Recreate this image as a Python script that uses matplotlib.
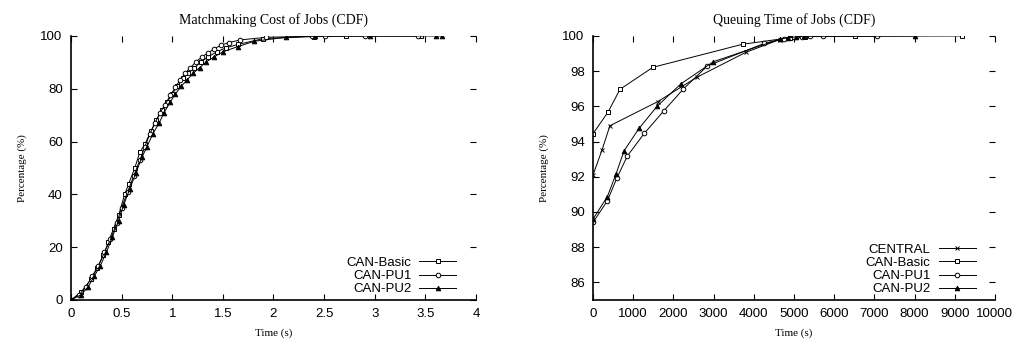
import numpy as np
import matplotlib
matplotlib.use('Agg')
import matplotlib.pyplot as plt

# left panel: matchmaking cost CDF
basic_x = [0, 0.1, 0.2, 0.26, 0.32, 0.37, 0.42, 0.47, 0.53, 0.57, 0.63, 0.68, 0.73, 0.79, 0.84, 0.9,
           0.95, 1.0, 1.05, 1.11, 1.16, 1.22, 1.28, 1.35, 1.44, 1.53, 1.65, 1.9, 2.4, 2.72, 3.46]
basic_y = [0, 3, 8, 12, 17, 22, 27, 32, 40, 44, 50, 56, 59, 64, 68, 72,
           75, 78, 81, 84, 86, 88, 90, 92, 94, 95.5, 96.8, 99, 99.8, 100, 100]
pu1_x = [0, 0.08, 0.15, 0.21, 0.27, 0.33, 0.39, 0.45, 0.5, 0.56, 0.62, 0.68, 0.73, 0.78, 0.83, 0.88,
         0.93, 0.98, 1.03, 1.08, 1.13, 1.18, 1.23, 1.29, 1.35, 1.41, 1.48, 1.56, 1.67, 1.93, 2.38, 2.51,
         2.9, 3.43]
pu1_y = [0, 2, 5, 9, 13, 18, 23, 29, 35, 41, 47, 53, 58, 63, 67, 71,
         74, 77.5, 80.5, 83.5, 86, 88, 90, 92, 93.5, 95, 96.5, 97.5, 98.5, 99.5, 99.9, 100,
         100, 100]
pu2_x = [0, 0.1, 0.17, 0.23, 0.29, 0.35, 0.41, 0.47, 0.52, 0.58, 0.64, 0.7, 0.75, 0.81, 0.87, 0.92,
         0.98, 1.03, 1.09, 1.15, 1.21, 1.27, 1.33, 1.41, 1.5, 1.65, 1.81, 2.12, 2.41, 2.95, 3.61, 3.66]
pu2_y = [0, 2, 5, 9, 13, 18, 24, 30, 36, 42, 48, 54, 58, 63, 67, 71,
         75, 78, 81, 83.5, 86, 88, 90, 92, 94, 96, 98, 99.5, 99.9, 100, 100, 100]

# right panel: queuing time CDF
q_central_x = [0, 220, 420, 1610, 2580, 3800, 4650, 4950, 5150, 5300]
q_central_y = [92.1, 93.5, 94.9, 96.27, 97.65, 99.07, 99.8, 99.93, 99.98, 100]
q_basic_x = [0, 380, 670, 1490, 3720, 4900, 5270, 6520, 9170]
q_basic_y = [94.45, 95.7, 96.97, 98.22, 99.53, 99.9, 99.97, 99.99, 100]
q_pu1_x = [0, 356, 590, 853, 1277, 1767, 2248, 2845, 4262, 4750, 5000, 5200, 5400, 5715, 7060]
q_pu1_y = [89.41, 90.63, 91.91, 93.18, 94.47, 95.76, 96.99, 98.3, 99.58, 99.85, 99.93, 99.97, 99.98,
           99.99, 100]
q_pu2_x = [0, 356, 572, 771, 1145, 1600, 2182, 2994, 4650, 4850, 5050, 5250, 8000]
q_pu2_y = [89.6, 90.87, 92.16, 93.47, 94.75, 96.02, 97.27, 98.54, 99.82, 99.9, 99.95, 99.98, 100]

serif = ['Liberation Serif', 'DejaVu Serif']
plt.rcParams['font.family'] = ['Liberation Sans', 'DejaVu Sans']

fig = plt.figure(figsize=(10.2, 3.48), dpi=100)
ax1 = fig.add_axes([0.0696, 0.138, 0.397, 0.7586])
ax2 = fig.add_axes([0.5814, 0.138, 0.394, 0.7586])

style = dict(color='black', lw=0.7, markersize=3.3, mfc='white', mec='black', mew=0.7)
tri = dict(style, mfc='black')

ax1.plot(basic_x, basic_y, marker='s', label='CAN-Basic', **style)
ax1.plot(pu1_x, pu1_y, marker='o', label='CAN-PU1', **style)
ax1.plot(pu2_x, pu2_y, marker='^', label='CAN-PU2', **tri)

ax2.plot(q_central_x, q_central_y, marker='x', label='CENTRAL', **style)
ax2.plot(q_basic_x, q_basic_y, marker='s', label='CAN-Basic', **style)
ax2.plot(q_pu1_x, q_pu1_y, marker='o', label='CAN-PU1', **style)
ax2.plot(q_pu2_x, q_pu2_y, marker='^', label='CAN-PU2', **tri)

ax1.set_xlim(0, 4)
ax1.set_ylim(0, 100)
ax1.set_xticks(np.arange(0, 4.01, 0.5))
ax1.set_xticklabels(['0', '0.5', '1', '1.5', '2', '2.5', '3', '3.5', '4'])
ax1.set_yticks(np.arange(0, 101, 20))
ax1.set_title('Matchmaking Cost of Jobs (CDF)', family=serif, fontsize=10, pad=9)

ax2.set_xlim(0, 10000)
ax2.set_ylim(85, 100)
ax2.set_xticks(np.arange(0, 10001, 1000))
ax2.set_yticks(np.arange(86, 101, 2))
ax2.set_title('Queuing Time of Jobs (CDF)', family=serif, fontsize=10, pad=9)

for ax in (ax1, ax2):
    ax.spines['top'].set_visible(False)
    ax.spines['right'].set_visible(False)
    ax.spines['left'].set_linewidth(1.2)
    ax.spines['bottom'].set_linewidth(1.2)
    ax.tick_params(direction='in', top=True, right=True, length=4, width=0.8,
                   labelsize=9.5, pad=6)
    ax.set_xlabel('Time (s)', family=serif, fontsize=8, labelpad=6)
    ax.set_ylabel('Percentage (%)', family=serif, fontsize=8, labelpad=10)
    ax.legend(loc='lower right', bbox_to_anchor=(0.955, 0.012), frameon=False,
              markerfirst=False, fontsize=9.5, handlelength=2.8, labelspacing=0.08,
              borderaxespad=0, handletextpad=0.6, borderpad=0.1)

fig.savefig('out.png', dpi=100)
